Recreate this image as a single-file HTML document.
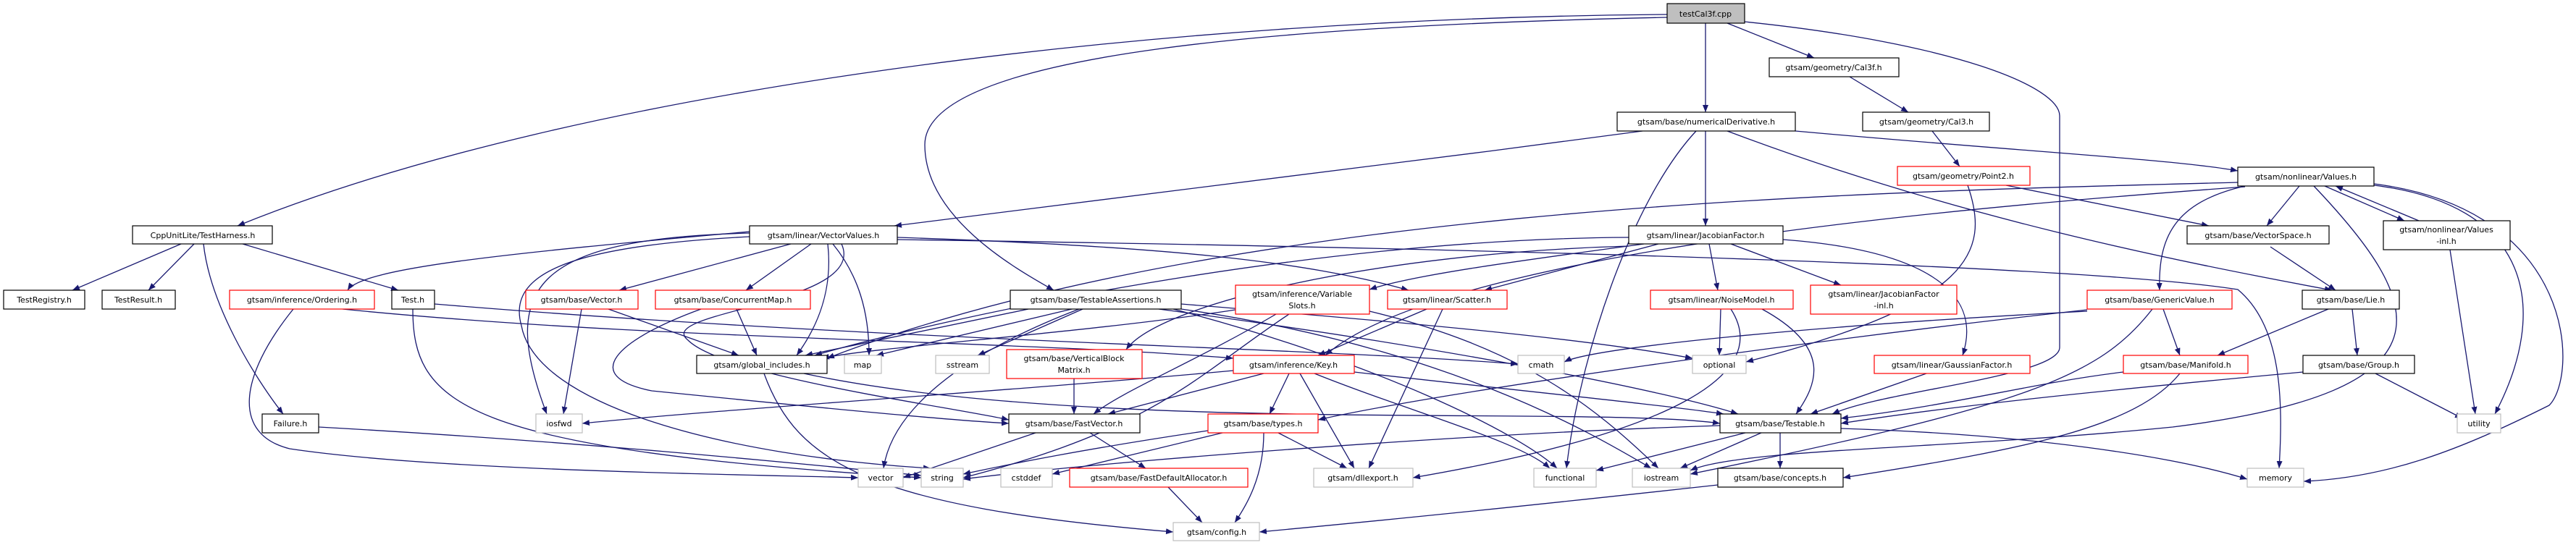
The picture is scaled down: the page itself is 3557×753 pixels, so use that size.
<!DOCTYPE html>
<html><head><meta charset="utf-8"><style>
html,body{margin:0;padding:0;background:#fff;}
svg{display:block;}
text{font-family:"DejaVu Sans","Liberation Sans",sans-serif;font-size:11px;fill:#000;text-anchor:middle;}
.e{fill:none;stroke:#191970;stroke-width:1.3;marker-end:url(#a);}
.b{fill:#fff;stroke:#000;stroke-width:1.2;}
.r{fill:#fff;stroke:#ff0000;stroke-width:1.2;}
.g{fill:#fff;stroke:#bfbfbf;stroke-width:1.2;}
</style></head><body>
<svg width="3557" height="753" viewBox="0 0 3557 753" xmlns="http://www.w3.org/2000/svg">
<defs><marker id="a" markerUnits="userSpaceOnUse" markerWidth="11" markerHeight="8" refX="10" refY="4" orient="auto"><path d="M0,0 L10,4 L0,8 z" fill="#191970"/></marker></defs>
<g>
<path class="e" d="M2302,20 C1600,25 800,120 328,312"/>
<path class="e" d="M2302,24 C1800,35 1277,70 1277,200 C1277,300 1400,370 1455,401"/>
<path class="e" d="M2355,32 L2355,155"/>
<path class="e" d="M2385,32 L2505,80"/>
<path class="e" d="M2409,30 C2700,60 2844,120 2844,160 L2844,480 C2844,520 2600,540 2530,572"/>
<path class="e" d="M250,337 L100,401"/>
<path class="e" d="M268,337 L205,401"/>
<path class="e" d="M335,337 L550,401"/>
<path class="e" d="M281,337 C290,420 350,520 391,572"/>
<path class="e" d="M570,427 C570,560 640,620 1272,660"/>
<path class="e" d="M600,420 C1200,470 1800,480 2096,503"/>
<path class="e" d="M440,590 C800,610 1100,640 1272,657"/>
<path class="e" d="M405,427 C330,520 320,600 400,620 C600,650 1000,655 1185,660"/>
<path class="e" d="M473,427 C900,470 1400,470 1703,495"/>
<path class="e" d="M1035,320 C700,350 500,370 480,401"/>
<path class="e" d="M1092,337 L855,401"/>
<path class="e" d="M1120,337 L1030,401"/>
<path class="e" d="M1143,337 C1150,400 1130,450 1100,491"/>
<path class="e" d="M1150,337 C1185,380 1200,430 1200,491"/>
<path class="e" d="M1035,327 C780,340 700,380 720,450 C740,560 1000,630 1285,647"/>
<path class="e" d="M1035,322 C730,330 690,400 755,572"/>
<path class="e" d="M1162,337 C1200,420 900,430 950,470 C1000,520 1300,560 1393,580"/>
<path class="e" d="M1239,328 C1600,340 1800,360 1945,401"/>
<path class="e" d="M1239,331 C2200,345 2900,370 3090,400 C3150,450 3153,550 3147,647"/>
<path class="e" d="M803,427 L778,572"/>
<path class="e" d="M840,427 L1020,491"/>
<path class="e" d="M1017,427 L1045,491"/>
<path class="e" d="M968,427 C850,470 800,520 900,540 C1100,560 1300,580 1393,585"/>
<path class="e" d="M1055,516 C1100,640 1200,700 1620,735"/>
<path class="e" d="M1110,516 C1500,600 2200,560 2375,585"/>
<path class="e" d="M1420,427 L1112,491"/>
<path class="e" d="M1480,427 L1210,491"/>
<path class="e" d="M1495,427 L1350,491"/>
<path class="e" d="M1490,427 C1300,500 1230,580 1220,647"/>
<path class="e" d="M1600,427 C2000,480 2300,540 2400,572"/>
<path class="e" d="M1620,427 C1900,500 2100,600 2150,647"/>
<path class="e" d="M1631,427 C2000,480 2200,600 2280,647"/>
<path class="e" d="M1631,420 C2000,450 2200,470 2337,495"/>
<path class="e" d="M1706,428 C1500,460 1200,480 1135,495"/>
<path class="e" d="M1762,434 C1650,500 1550,540 1510,572"/>
<path class="e" d="M1780,434 C1650,520 1600,590 1330,660"/>
<path class="e" d="M1891,430 C2100,480 2200,560 2290,647"/>
<path class="e" d="M1970,427 L1820,491"/>
<path class="e" d="M1992,427 L1890,647"/>
<path class="e" d="M1780,516 L1753,572"/>
<path class="e" d="M1795,516 L1870,647"/>
<path class="e" d="M1745,516 L1530,572"/>
<path class="e" d="M1703,512 C1400,540 1000,565 804,585"/>
<path class="e" d="M1815,516 C1950,570 2100,610 2140,647"/>
<path class="e" d="M1870,514 C2100,540 2300,560 2380,572"/>
<path class="e" d="M1483,523 L1483,572"/>
<path class="e" d="M1430,598 L1247,660"/>
<path class="e" d="M1505,598 L1582,647"/>
<path class="e" d="M1688,598 L1453,655"/>
<path class="e" d="M1765,598 L1860,647"/>
<path class="e" d="M1745,598 C1745,660 1720,700 1705,722"/>
<path class="e" d="M1668,595 C1500,620 1400,640 1330,655"/>
<path class="e" d="M1613,673 L1660,722"/>
<path class="e" d="M2554,106 L2635,155"/>
<path class="e" d="M2668,181 L2706,230"/>
<path class="e" d="M2268,181 C1900,230 1500,280 1235,312"/>
<path class="e" d="M2355,181 L2355,312"/>
<path class="e" d="M2342,181 C2250,280 2180,500 2163,647"/>
<path class="e" d="M2479,181 C2800,210 3000,220 3090,236"/>
<path class="e" d="M2385,181 C2700,300 3000,360 3220,401"/>
<path class="e" d="M2770,256 L3050,312"/>
<path class="e" d="M2717,256 C2750,350 2720,420 2411,500"/>
<path class="e" d="M2270,337 C2100,360 1950,380 1891,400"/>
<path class="e" d="M2290,337 L2050,401"/>
<path class="e" d="M2360,337 L2372,401"/>
<path class="e" d="M2390,337 L2542,394"/>
<path class="e" d="M2462,331 C2650,345 2740,400 2710,491"/>
<path class="e" d="M2249,340 C1900,350 1600,420 1555,483"/>
<path class="e" d="M2249,328 C1800,330 1300,440 1125,491"/>
<path class="e" d="M2376,427 L2374,491"/>
<path class="e" d="M2433,427 C2530,480 2510,530 2480,572"/>
<path class="e" d="M2390,427 C2450,520 2300,600 1951,660"/>
<path class="e" d="M2660,516 L2500,572"/>
<path class="e" d="M2410,598 L2204,650"/>
<path class="e" d="M2432,598 L2320,647"/>
<path class="e" d="M2458,598 L2458,647"/>
<path class="e" d="M2375,588 C2000,600 1500,640 1330,662"/>
<path class="e" d="M2542,592 C2800,600 3000,630 3103,662"/>
<path class="e" d="M2372,670 C2100,700 1900,720 1739,735"/>
<path class="e" d="M3175,257 L3130,312"/>
<path class="e" d="M3100,257 C3000,280 2980,330 2982,401"/>
<path class="e" d="M3210,257 L3320,305"/>
<path class="e" d="M3340,305 L3225,257"/>
<path class="e" d="M3270,255 C3500,280 3520,430 3445,572"/>
<path class="e" d="M3278,254 C3560,290 3560,520 3520,560 C3400,620 3300,660 3181,665"/>
<path class="e" d="M3383,345 L3418,572"/>
<path class="e" d="M3195,257 C3350,420 3400,540 3000,590 C2700,620 2400,620 2334,650"/>
<path class="e" d="M3100,258 C2800,280 2000,340 1830,491"/>
<path class="e" d="M3090,252 C2600,265 1700,280 1142,495"/>
<path class="e" d="M3135,341 L3225,401"/>
<path class="e" d="M3215,427 L3062,491"/>
<path class="e" d="M3248,427 L3255,491"/>
<path class="e" d="M3280,516 L3400,578"/>
<path class="e" d="M3180,514 C2900,540 2700,560 2542,585"/>
<path class="e" d="M2987,427 L3010,491"/>
<path class="e" d="M2882,430 C2500,450 2200,480 2160,500"/>
<path class="e" d="M2882,428 C2500,470 2000,540 1820,580"/>
<path class="e" d="M2972,427 C2900,520 2800,560 2334,655"/>
<path class="e" d="M3010,516 C2950,590 2800,620 2545,660"/>
<path class="e" d="M2932,514 C2800,530 2700,560 2542,578"/>
</g>
<g>
<rect x="2302" y="5" width="107" height="27" fill="#bfbfbf" stroke="#000" stroke-width="1.2"/><text x="2355" y="23">testCal3f.cpp</text>
<rect class="b" x="183" y="312" width="193" height="25"/><text x="280" y="329">CppUnitLite/TestHarness.h</text>
<rect class="b" x="5" y="401" width="112" height="26"/><text x="61" y="418">TestRegistry.h</text>
<rect class="b" x="141" y="401" width="101" height="26"/><text x="191" y="418">TestResult.h</text>
<rect class="r" x="317" y="401" width="200" height="26"/><text x="417" y="418">gtsam/inference/Ordering.h</text>
<rect class="b" x="541" y="401" width="59" height="26"/><text x="570" y="418">Test.h</text>
<rect class="b" x="362" y="572" width="78" height="26"/><text x="401" y="589">Failure.h</text>
<rect class="b" x="1035" y="312" width="204" height="25"/><text x="1137" y="329">gtsam/linear/VectorValues.h</text>
<rect class="r" x="726" y="401" width="155" height="26"/><text x="803" y="418">gtsam/base/Vector.h</text>
<rect class="r" x="905" y="401" width="214" height="26"/><text x="1012" y="418">gtsam/base/ConcurrentMap.h</text>
<rect class="b" x="962" y="491" width="180" height="25"/><text x="1052" y="508">gtsam/global_includes.h</text>
<rect class="g" x="1166" y="491" width="51" height="25"/><text x="1191" y="508">map</text>
<rect class="g" x="1292" y="491" width="74" height="25"/><text x="1329" y="508">sstream</text>
<rect class="g" x="740" y="572" width="64" height="26"/><text x="772" y="589">iosfwd</text>
<rect class="g" x="1185" y="647" width="62" height="26"/><text x="1216" y="664">vector</text>
<rect class="g" x="1272" y="647" width="58" height="26"/><text x="1301" y="664">string</text>
<rect class="b" x="1395" y="401" width="236" height="26"/><text x="1513" y="418">gtsam/base/TestableAssertions.h</text>
<rect class="r" x="1706" y="394" width="185" height="40"/><text x="1798" y="410">gtsam/inference/Variable</text><text x="1798" y="426">Slots.h</text>
<rect class="r" x="1916" y="401" width="165" height="26"/><text x="1998" y="418">gtsam/linear/Scatter.h</text>
<rect class="r" x="1390" y="483" width="187" height="40"/><text x="1483" y="499">gtsam/base/VerticalBlock</text><text x="1483" y="515">Matrix.h</text>
<rect class="r" x="1703" y="491" width="167" height="25"/><text x="1786" y="508">gtsam/inference/Key.h</text>
<rect class="b" x="1393" y="572" width="181" height="26"/><text x="1483" y="589">gtsam/base/FastVector.h</text>
<rect class="r" x="1668" y="572" width="152" height="26"/><text x="1744" y="589">gtsam/base/types.h</text>
<rect class="g" x="1382" y="647" width="71" height="26"/><text x="1417" y="664">cstddef</text>
<rect class="r" x="1477" y="647" width="246" height="26"/><text x="1600" y="664">gtsam/base/FastDefaultAllocator.h</text>
<rect class="g" x="1814" y="647" width="137" height="26"/><text x="1882" y="664">gtsam/dllexport.h</text>
<rect class="g" x="1620" y="722" width="119" height="25"/><text x="1680" y="739">gtsam/config.h</text>
<rect class="b" x="2443" y="80" width="179" height="26"/><text x="2532" y="97">gtsam/geometry/Cal3f.h</text>
<rect class="b" x="2233" y="155" width="246" height="26"/><text x="2356" y="172">gtsam/base/numericalDerivative.h</text>
<rect class="b" x="2572" y="155" width="175" height="26"/><text x="2660" y="172">gtsam/geometry/Cal3.h</text>
<rect class="r" x="2620" y="230" width="183" height="26"/><text x="2711" y="247">gtsam/geometry/Point2.h</text>
<rect class="b" x="2249" y="312" width="213" height="25"/><text x="2355" y="329">gtsam/linear/JacobianFactor.h</text>
<rect class="r" x="2279" y="401" width="197" height="26"/><text x="2377" y="418">gtsam/linear/NoiseModel.h</text>
<rect class="r" x="2500" y="394" width="202" height="40"/><text x="2601" y="410">gtsam/linear/JacobianFactor</text><text x="2601" y="426">-inl.h</text>
<rect class="g" x="2096" y="491" width="64" height="25"/><text x="2128" y="508">cmath</text>
<rect class="g" x="2337" y="491" width="74" height="25"/><text x="2374" y="508">optional</text>
<rect class="r" x="2588" y="491" width="215" height="25"/><text x="2695" y="508">gtsam/linear/GaussianFactor.h</text>
<rect class="b" x="2375" y="572" width="167" height="26"/><text x="2458" y="589">gtsam/base/Testable.h</text>
<rect class="g" x="2118" y="647" width="86" height="26"/><text x="2161" y="664">functional</text>
<rect class="g" x="2254" y="647" width="80" height="26"/><text x="2294" y="664">iostream</text>
<rect class="b" x="2372" y="647" width="173" height="26"/><text x="2458" y="664">gtsam/base/concepts.h</text>
<rect class="b" x="3090" y="231" width="188" height="26"/><text x="3184" y="248">gtsam/nonlinear/Values.h</text>
<rect class="b" x="3020" y="312" width="196" height="25"/><text x="3118" y="329">gtsam/base/VectorSpace.h</text>
<rect class="b" x="3291" y="305" width="175" height="40"/><text x="3378" y="321">gtsam/nonlinear/Values</text><text x="3378" y="337">-inl.h</text>
<rect class="r" x="2882" y="401" width="200" height="26"/><text x="2982" y="418">gtsam/base/GenericValue.h</text>
<rect class="b" x="3179" y="401" width="134" height="26"/><text x="3246" y="418">gtsam/base/Lie.h</text>
<rect class="r" x="2932" y="491" width="172" height="25"/><text x="3018" y="508">gtsam/base/Manifold.h</text>
<rect class="b" x="3180" y="491" width="154" height="25"/><text x="3257" y="508">gtsam/base/Group.h</text>
<rect class="g" x="3393" y="572" width="60" height="26"/><text x="3423" y="589">utility</text>
<rect class="g" x="3103" y="647" width="78" height="26"/><text x="3142" y="664">memory</text>
</g>
</svg>
</body></html>
